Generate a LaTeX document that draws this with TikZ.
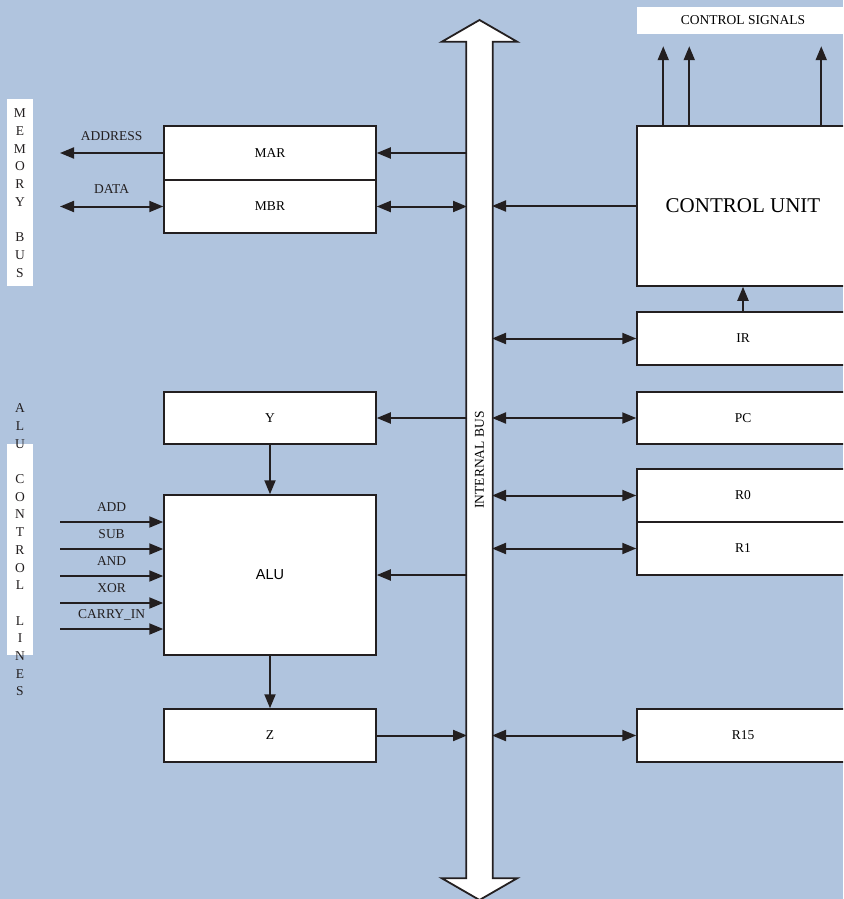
\documentclass[tikz,border=0pt]{standalone}
\usepackage{fontspec}
\setmainfont{Liberation Serif}
\newfontfamily\alufont{Liberation Sans}
\usetikzlibrary{arrows.meta,shapes.arrows}
\definecolor{panelbg}{HTML}{B0C4DE}
\definecolor{ink}{HTML}{231F20}
\newcommand{\regfont}{\fontsize{13.5}{16}\selectfont}
\newcommand{\unitfont}{\fontsize{21}{25}\selectfont}
\newcommand{\stripfont}{\fontsize{13.5}{17.7}\selectfont}

\tikzset{
  reg/.style={draw=ink, line width=1.5pt, fill=white, minimum width=212pt,
              inner sep=0pt, font=\regfont},
  arr/.style={draw=ink, line width=2pt, -{Triangle[length=14pt,width=11pt]}},
  darr/.style={draw=ink, line width=2pt,
               {Triangle[length=14pt,width=11pt]}-{Triangle[length=14pt,width=11pt]}},
  lbl/.style={font=\regfont, text=ink, inner sep=0pt, text depth=0pt},
  strip/.style={font=\stripfont, text=ink, align=center, inner sep=0pt},
}

\begin{document}
\begin{tikzpicture}[x=1pt, y=-1pt]
\fill[panelbg] (0,0) rectangle (843,899);
\clip (0,0) rectangle (843,899);

% side strips
\fill[white] (7,99) rectangle (33,286);
\node[strip] (membus) at (20,193) {M\\E\\M\\O\\R\\Y\\[17.7pt]B\\U\\S};
\fill[white] (7,444) rectangle (33,655);
\node[strip] (alulines) at (20,550)
  {A\\L\\U\\[17.7pt]C\\O\\N\\T\\R\\O\\L\\[17.7pt]L\\I\\N\\E\\S};

% left registers
\node[reg, minimum height=54pt] (mar) at (270,153) {MAR};
\node[reg, minimum height=53pt] (mbr) at (270,206.5) {MBR};
\node[reg, minimum height=52pt] (ybox) at (270,418) {Y};
\node[reg, minimum height=160pt, font={\alufont\fontsize{14.5}{16}\selectfont}] (alu) at (270,575) {ALU};
\node[reg, minimum height=53pt] (z) at (270,735.5) {Z};

% right side
\node[fill=white, minimum width=212pt, minimum height=27pt, inner sep=0pt, font=\regfont] (sig) at (743,20.5) {CONTROL SIGNALS};
\node[reg, minimum height=160pt, font=\unitfont] (cu) at (743,206) {CONTROL UNIT};
\node[reg, minimum height=53pt] (ir) at (743,338.5) {IR};
\node[reg, minimum height=52pt] (pc) at (743,418) {PC};
\node[reg, minimum height=53pt] (r0) at (743,495.5) {R0};
\node[reg, minimum height=53pt] (r1) at (743,548.5) {R1};
\node[reg, minimum height=53pt] (r15) at (743,735.5) {R15};

% internal bus
\node[double arrow, draw=ink, line width=1.8pt, fill=white, rotate=90,
      double arrow tip angle=120, double arrow head extend=24.5pt,
      minimum height=880pt, inner xsep=0pt, inner ysep=7.9pt, font=\regfont]
      (bus) at (479.5,460) {INTERNAL BUS};
\path (bus.center) ++(-12.5,0) coordinate (busW) ++(25,0) coordinate (busE);
\coordinate (memend) at (60,0);

% memory bus
\draw[arr] (mar) -- (memend |- mar) node[lbl, midway, above=12pt] {ADDRESS};
\draw[darr] (mbr) -- (memend |- mbr) node[lbl, midway, above=12pt] {DATA};
\draw[arr] (busW |- mar) -- (mar);
\draw[darr] (busW |- mbr) -- (mbr);

% alu path
\draw[arr] (busW |- ybox) -- (ybox);
\draw[arr] (ybox) -- (alu);
\draw[arr] (busW |- alu) -- (alu);
\draw[arr] (alu) -- (z);
\draw[arr] (z) -- (busW |- z);
\foreach \op/\yy in {ADD/522,SUB/549,AND/576,XOR/603,CARRY\_IN/629}
  \draw[arr] (memend |- 0,\yy) -- (alu.west |- 0,\yy)
    node[lbl, midway, above=10pt] {\op};

% control unit and registers
\draw[arr] (cu) -- (busE |- cu);
\draw[arr] (ir) -- (cu);
\foreach \dx in {27,53,185}
  \draw[arr] ([xshift=\dx pt]cu.north west) -- ++(0,-79);
\foreach \reg in {ir,pc,r0,r1,r15}
  \draw[darr] (busE |- \reg) -- (\reg);
\end{tikzpicture}
\end{document}
